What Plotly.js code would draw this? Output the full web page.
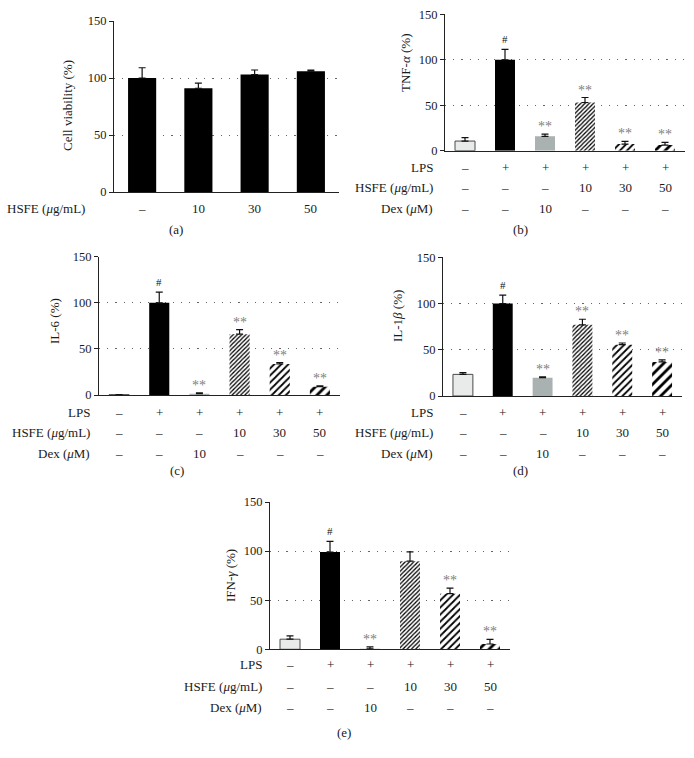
<!DOCTYPE html>
<html>
<head>
<meta charset="utf-8">
<script src="https://cdn.plot.ly/plotly-3.0.1.min.js"></script>
<style>html,body{margin:0;padding:0;background:#fff}#chart{width:694px;height:758px}</style>
</head>
<body>
<div id="chart"></div>
<script>
// ---- data ----
const viabilityCats = ["–", "10", "30", "50"];
const viability = [100, 91, 103, 106];
const viabilityErr = [9, 4.5, 4, 1];

const lpsRow = ["–", "+", "+", "+", "+", "+"];
const hsfeRow = ["–", "–", "–", "10", "30", "50"];
const dexRow = ["–", "–", "10", "–", "–", "–"];

const tnf = [10.6, 100, 15.8, 53, 7.3, 6.2];
const tnfErr = [3.7, 11.5, 2.5, 5.5, 3, 3];
const tnfSig = ["", "#", "**", "**", "**", "**"];

const il6 = [0.3, 100, 1.4, 66, 33.6, 9];
const il6Err = [0, 11.5, 0.8, 5, 1.5, 0.8];
const il6Sig = ["", "#", "**", "**", "**", "**"];

const il1b = [23.4, 100, 19.8, 77, 55.5, 36.8];
const il1bErr = [1.8, 9, 0.8, 6, 1.8, 2.2];
const il1bSig = ["", "#", "**", "**", "**", "**"];

const ifng = [10.3, 99, 0.5, 89.7, 56.6, 5.4];
const ifngErr = [3.4, 11, 1.9, 9.5, 5.7, 4.8];
const ifngSig = ["", "#", "**", "", "**", "**"];

// ---- styling ----
const W = 694, H = 758;
const FONT = "Liberation Serif";
const TXT = "#1a1a1a";
const px = p => p / W;
const py = p => 1 - p / H;

// per treatment group style
const groupStyle = [
  {color: "#e9ebeb", line: 1, shape: ""},
  {color: "#000000", line: 0, shape: ""},
  {color: "#a9b1b1", line: 0, shape: ""},
  {color: "#ffffff", line: 0, shape: "/", size: 3, solidity: 0.42},
  {color: "#ffffff", line: 0, shape: "/", size: 5, solidity: 0.36},
  {color: "#ffffff", line: 0, shape: "/", size: 7, solidity: 0.4}
];

const panels = [
  {ax: "", vals: viability, err: viabilityErr, sig: null,
   xd: [114, 339], yd: [21, 192], title: "Cell viability (%)", tx: 68, ty: 106,
   rows: [["HSFE (<i>μ</i>g/mL)", viabilityCats, 208]], labR: 87, letter: "(a)", lx: 176, ly: 229},
  {ax: "2", vals: tnf, err: tnfErr, sig: tnfSig,
   xd: [445, 685], yd: [14.3, 150.7], title: "TNF-<i>α</i> (%)", tx: 405, ty: 63,
   rows: [["LPS", lpsRow, 167], ["HSFE (<i>μ</i>g/mL)", hsfeRow, 188], ["Dex (<i>μ</i>M)", dexRow, 208]],
   labR: 435, letter: "(b)", lx: 520, ly: 230},
  {ax: "3", vals: il6, err: il6Err, sig: il6Sig,
   xd: [99, 340], yd: [256.7, 395], title: "IL-6 (%)", tx: 55, ty: 321,
   rows: [["LPS", lpsRow, 412], ["HSFE (<i>μ</i>g/mL)", hsfeRow, 432], ["Dex (<i>μ</i>M)", dexRow, 453]],
   labR: 92, letter: "(c)", lx: 177, ly: 470},
  {ax: "4", vals: il1b, err: il1bErr, sig: il1bSig,
   xd: [443, 682], yd: [257.3, 396], title: "IL-1<i>β</i> (%)", tx: 397, ty: 316,
   rows: [["LPS", lpsRow, 412], ["HSFE (<i>μ</i>g/mL)", hsfeRow, 432], ["Dex (<i>μ</i>M)", dexRow, 453]],
   labR: 435, letter: "(d)", lx: 520, ly: 470},
  {ax: "5", vals: ifng, err: ifngErr, sig: ifngSig,
   xd: [270, 510], yd: [502, 649.3], title: "IFN-<i>γ</i> (%)", tx: 230, ty: 576,
   rows: [["LPS", lpsRow, 664], ["HSFE (<i>μ</i>g/mL)", hsfeRow, 686], ["Dex (<i>μ</i>M)", dexRow, 707]],
   labR: 264, letter: "(e)", lx: 344, ly: 732}
];

const data = [];
const annotations = [];
const layout = {
  width: W, height: H,
  margin: {l: 0, r: 0, t: 0, b: 0},
  paper_bgcolor: "#fff", plot_bgcolor: "rgba(0,0,0,0)",
  showlegend: false,
  barmode: "overlay",
  font: {family: FONT, size: 13, color: TXT},
  annotations: annotations
};

function errorBar(e) {
  return {type: "data", symmetric: false, array: [e], arrayminus: [0],
          color: "#111", thickness: 1.2, width: 3.5};
}

panels.forEach(p => {
  const n = p.vals.length;
  const isA = p.ax === "";

  p.vals.forEach((v, i) => {
    const st = isA ? {color: "#000", line: 0, shape: ""} : groupStyle[i];
    const marker = {color: st.color, line: {color: "#4a4a4a", width: st.line}};
    if (st.shape) {
      marker.pattern = {shape: st.shape, fgcolor: "#000", bgcolor: "#fff", fgopacity: 1,
                        size: st.size, solidity: st.solidity, fillmode: "overlay"};
    }
    data.push({
      type: "bar", x: [i], y: [v],
      xaxis: "x" + p.ax, yaxis: "y" + p.ax,
      width: 0.5, hoverinfo: "skip",
      error_y: errorBar(p.err[i]),
      marker: marker
    });
  });

  layout["xaxis" + p.ax] = {
    domain: [px(p.xd[0]), px(p.xd[1])],
    anchor: "y" + p.ax,
    range: [-0.5, n - 0.5],
    showgrid: false, zeroline: false, showticklabels: false, ticks: "",
    showline: true, linecolor: "#222", linewidth: 1, fixedrange: true
  };
  layout["yaxis" + p.ax] = {
    domain: [py(p.yd[1]), py(p.yd[0])],
    anchor: "x" + p.ax,
    range: [0, 150],
    tickvals: [0, 50, 100, 150],
    ticks: "outside", ticklen: 4, tickcolor: "#222", tickwidth: 1,
    tickfont: {family: FONT, size: 12.5, color: TXT},
    showline: true, linecolor: "#222", linewidth: 1,
    showgrid: true, gridcolor: "#666", griddash: "1.2px,7px", gridwidth: 1,
    zeroline: false, fixedrange: true
  };

  // y-axis title
  annotations.push({
    xref: "paper", yref: "paper",
    x: px(p.tx), y: py(p.ty),
    text: p.title, textangle: -90, showarrow: false,
    xanchor: "center", yanchor: "middle",
    font: {family: FONT, size: 13, color: TXT}
  });

  // significance markers
  if (p.sig) {
    p.sig.forEach((s, i) => {
      if (!s) return;
      annotations.push({
        xref: "x" + p.ax, yref: "y" + p.ax,
        x: i, y: p.vals[i] + p.err[i],
        text: s, showarrow: false, xanchor: "center", yanchor: "bottom",
        yshift: s === "#" ? 2 : -2,
        font: {family: FONT, size: s === "#" ? 11 : 14, color: s === "#" ? "#111" : "#808080"}
      });
    });
  }

  // condition table
  p.rows.forEach(r => {
    annotations.push({
      xref: "paper", yref: "paper",
      x: px(p.labR), y: py(r[2]),
      text: r[0], showarrow: false, xanchor: "right", yanchor: "middle",
      font: {family: FONT, size: 13, color: TXT}
    });
    r[1].forEach((c, i) => {
      annotations.push({
        xref: "x" + p.ax, yref: "paper",
        x: i, y: py(r[2]),
        text: c, showarrow: false, xanchor: "center", yanchor: "middle",
        font: {family: FONT, size: 13, color: TXT}
      });
    });
  });

  // panel letter
  annotations.push({
    xref: "paper", yref: "paper",
    x: px(p.lx), y: py(p.ly),
    text: p.letter, showarrow: false, xanchor: "center", yanchor: "middle",
    font: {family: FONT, size: 13, color: TXT}
  });
});

Plotly.newPlot("chart", data, layout, {displayModeBar: false, staticPlot: true});
</script>
</body>
</html>
